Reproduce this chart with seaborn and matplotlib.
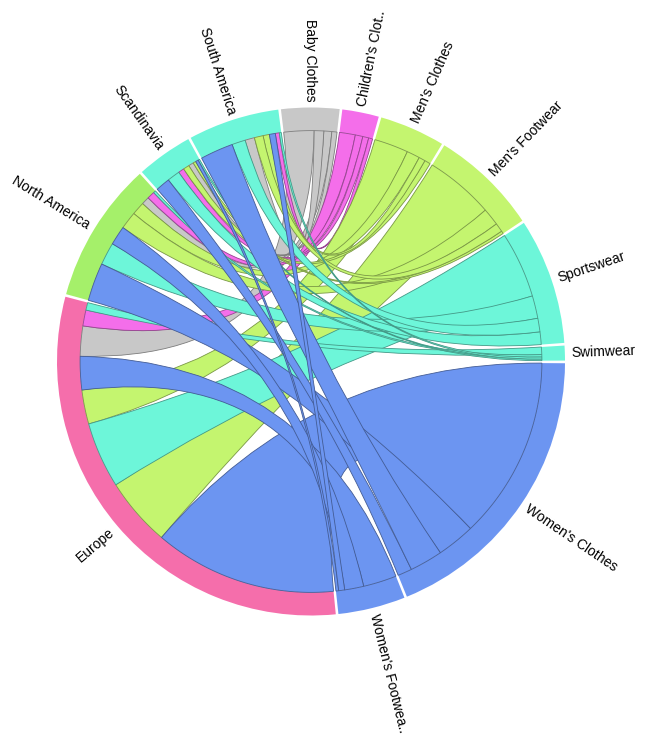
import numpy as np
import matplotlib
matplotlib.use("Agg")
import matplotlib.pyplot as plt
from matplotlib.path import Path
from matplotlib.patches import PathPatch, Wedge
import matplotlib.colors as mcolors
import seaborn as sns

# ---------------- data ----------------
products = ["Baby Clothes", "Children's Clothes", "Men's Clothes", "Men's Footwear",
            "Sportswear", "Swimwear", "Women's Clothes", "Women's Footwear"]
product_labels = ["Baby Clothes", "Children's Clot..", "Men's Clothes", "Men's Footwear",
                  "Sportswear", "Swimwear", "Women's Clothes", "Women's Footwea.."]
regions = ["Europe", "North America", "Scandinavia", "South America"]

# sales per region, in product order
europe = [76, 40, 86, 174, 166, 19, 460, 84]
north_america = [20, 19, 33, 44, 57, 6, 96, 48]
scandinavia = [13, 15, 15, 7, 32, 4, 36, 7]
south_america = [24, 10, 16, 22, 34, 5, 83, 15]

product_colors = ["#C8C8C8", "#F46EEA", "#C4F56F", "#C4F56F",
                  "#6DF6D9", "#6DF6D9", "#6C95F1", "#6C95F1"]
region_colors = ["#F56EAB", "#A5F06A", "#6DF6D9", "#6DF6D9"]

# ---------------- layout ----------------
sns.set_theme(style="white")
plt.rcParams['font.family'] = ['Liberation Sans', 'DejaVu Sans']

names = products + regions
labels = product_labels + regions
colors = product_colors + region_colors
n = len(names)
np_ = len(products)
region_vals = [europe, north_america, scandinavia, south_america]
M = np.zeros((n, n))
for r, vals in enumerate(region_vals):
    for p, v in enumerate(vals):
        M[p, np_ + r] = v
        M[np_ + r, p] = v

pad = np.deg2rad(0.6)
start = np.deg2rad(-6.8)
total = M.sum()
k = (2 * np.pi - n * pad) / total

group_ang = []
sub_ang = {}
a = start
for i in range(n):
    g0 = a
    order = sorted(range(n), key=lambda j: -M[i, j])
    for j in order:
        if M[i, j] <= 0:
            continue
        sub_ang[(i, j)] = (a, a + M[i, j] * k)
        a += M[i, j] * k
    group_ang.append((g0, a))
    a += pad

R_OUT = 1.0
R_IN = 0.909

W, H = 672, 741
cx, cy, rad = 311.0, 361.5, 254.0
fig = plt.figure(figsize=(W / 100, H / 100), dpi=100)
ax = fig.add_axes([0, 0, 1, 1])
ax.set_xlim((0 - cx) / rad, (W - cx) / rad)
ax.set_ylim((cy - H) / rad, cy / rad)
ax.axis("off")


def pt(t, r):
    return (r * np.sin(t), r * np.cos(t))


def arc(t0, t1, r):
    m = max(3, int(abs(t1 - t0) / 0.005) + 2)
    ts = np.linspace(t0, t1, m)
    return [pt(t, r) for t in ts]


def darker(c, f=0.62):
    rgb = np.array(mcolors.to_rgb(c))
    return tuple(rgb * f)


# rings
for i in range(n):
    g0, g1 = group_ang[i]
    w = Wedge((0, 0), R_OUT, 90 - np.rad2deg(g1), 90 - np.rad2deg(g0),
              width=R_OUT - R_IN, facecolor=colors[i], edgecolor="none")
    ax.add_patch(w)

# ribbons (products first, so women's wear on top)
for p in range(np_):
    for r in range(len(regions)):
        i, j = p, np_ + r
        if M[i, j] <= 0:
            continue
        s0, s1 = sub_ang[(i, j)]
        t0, t1 = sub_ang[(j, i)]
        verts = []
        codes = []
        sa = arc(s0, s1, R_IN)
        verts += sa
        codes += [Path.MOVETO] + [Path.LINETO] * (len(sa) - 1)
        verts += [(0, 0), pt(t0, R_IN)]
        codes += [Path.CURVE3, Path.CURVE3]
        ta = arc(t0, t1, R_IN)[1:]
        verts += ta
        codes += [Path.LINETO] * len(ta)
        verts += [(0, 0), pt(s0, R_IN)]
        codes += [Path.CURVE3, Path.CURVE3]
        verts.append((0, 0))
        codes.append(Path.CLOSEPOLY)
        col = colors[i]
        patch = PathPatch(Path(verts, codes), facecolor=col,
                          edgecolor=darker(col), linewidth=0.6, alpha=1.0)
        ax.add_patch(patch)

# labels
for i in range(n):
    g0, g1 = group_ang[i]
    tm = (g0 + g1) / 2
    deg = np.rad2deg(tm) % 360
    x, y = pt(tm, R_OUT + 0.025)
    if deg < 180:
        rot, ha = 90 - deg, "left"
    else:
        rot, ha = 270 - deg, "right"
    ax.text(x, y, labels[i], rotation=rot, rotation_mode="anchor",
            ha=ha, va="center", fontsize=10, color="black")

fig.savefig("out.png", dpi=100)
